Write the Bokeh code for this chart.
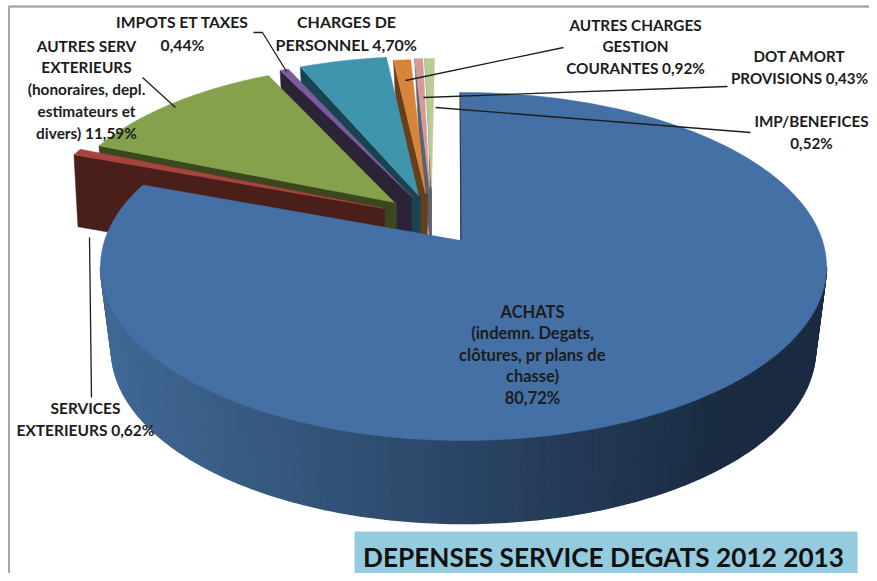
import numpy as np
from bokeh.plotting import figure
from bokeh.models import Range1d
from bokeh.core.properties import value
from bokeh.embed import file_html
from bokeh.resources import INLINE

# ---- data -----------------------------------------------------------
categories = ["ACHATS", "SERVICES EXTERIEURS", "AUTRES SERV EXTERIEURS", "IMPOTS ET TAXES",
              "CHARGES DE PERSONNEL", "AUTRES CHARGES GESTION COURANTES",
              "DOT AMORT PROVISIONS", "IMP/BENEFICES"]
values = [80.72, 0.62, 11.59, 0.44, 4.70, 0.92, 0.43, 0.52]
label_lines = [
    ["ACHATS", "(indemn. Degats,", "clôtures, pr plans de", "chasse)", "80,72%"],
    ["SERVICES", "EXTERIEURS 0,62%"],
    ["AUTRES SERV", "EXTERIEURS", "(honoraires, depl.", "estimateurs et", "divers) 11,59%"],
    ["IMPOTS ET TAXES", "0,44%"],
    ["CHARGES DE", "PERSONNEL 4,70%"],
    ["AUTRES CHARGES", "GESTION", "COURANTES 0,92%"],
    ["DOT AMORT", "PROVISIONS 0,43%"],
    ["IMP/BENEFICES", "0,52%"],
]
title_text = "DEPENSES SERVICE DEGATS 2012 2013"

# ---- layout / style -------------------------------------------------
top_colors = ["#4470A5", "#A8443F", "#86A14B", "#7A5C9E", "#3F95AE", "#D9843B", "#D49A97", "#B9CC91"]
wall_colors = ["#2A4568", "#4A1E19", "#3A471F", "#2C2339", "#1A4350", "#64401B", "#5C6270", "#5A5A55"]
apex_pos = [(460, 240), (384, 208), (394, 202), (412, 197), (418, 195), (425, 193), (429, 187), (431, 190)]
wall_right = [460, 384, 396, 411, 420, 427, 431, 431]
rx_px = [363, 355, 345, 362, 345, 345, 345, 345]
ry_px = [174, 170, 165, 165, 165, 160, 155, 158]
depth_px = [83, 72, 72, 72, 72, 72, 72, 72]
bottom_rx = 352
centre_shift = (3, 26)
label_pos = [(532, 311), (85, 407), (86, 45), (182, 21), (346, 21), (635, 24), (799, 55), (811, 120)]
label_size = ["16.5px", "15.5px", "15.4px", "15.7px", "16px", "15.3px", "15.2px", "15.2px"]
line_step = [21.5, 22, 21.8, 23, 23, 21.5, 22, 22]
leaders = [
    ([89, 91], [237, 397]),
    ([142, 175], [77, 107]),
    ([253, 262, 286], [32, 32, 71]),
    ([563, 405], [47, 80]),
    ([727, 423], [86, 97]),
    ([750, 435], [132, 107]),
]
FONT = value("Lato")
W, H = 869, 573

p = figure(width=W, height=H, x_range=Range1d(0, W), y_range=Range1d(H, 0),
           output_backend="svg", toolbar_location=None, min_border=0)
p.axis.visible = False
p.grid.visible = False
p.outline_line_color = None


def warp(theta):
    """pie angle (deg, clockwise from top) -> parameter on the perspective ellipse"""
    return theta - 7.7 * np.sin(np.radians(theta))


def rim(i, theta):
    t = np.radians(warp(np.asarray(theta, dtype=float)))
    ax, ay = apex_pos[i]
    return (ax + centre_shift[0] + rx_px[i] * np.sin(t),
            ay + centre_shift[1] - ry_px[i] * np.cos(t))


total = sum(values)
edges = np.cumsum([0] + values) / total * 360.0

# frame lines of the picture
p.line([8, W], [6, 6], line_color="#ABABAB", line_width=2.5)
p.line([8.5, 8.5], [6, H], line_color="#A6A6A6", line_width=2)

# exploded back slices, painted back to front, then the big slice
for i in range(len(values) - 1, 0, -1):
    t0, t1 = edges[i], edges[i + 1]
    ax, ay = apex_pos[i]
    d = depth_px[i]
    wx = wall_right[i]
    x0, y0 = rim(i, t0)
    p.patch([wx, ax, float(x0), float(x0) + 4, wx], [ay, ay, float(y0), float(y0) + d, ay + d],
            fill_color=wall_colors[i], line_color=wall_colors[i], line_width=0.5)
    th = np.linspace(t0, t1, 30)
    xs, ys = rim(i, th)
    p.patch([ax] + list(xs), [ay] + list(ys), fill_color=top_colors[i],
            line_color=top_colors[i], line_width=0.5)

# gradient wall of the big slice
ax, ay = apex_pos[0]
d = depth_px[0]
cx = ax + centre_shift[0]
cy = ay + centre_shift[1]
ts = np.radians(np.linspace(90, 270, 181))
left_rgb = np.array([0x41, 0x69, 0x96])
right_rgb = np.array([0x1A, 0x2B, 0x42])
for a, b in zip(ts[:-1], ts[1:]):
    xa, ya = cx + rx_px[0] * np.sin(a), cy - ry_px[0] * np.cos(a)
    xb, yb = cx + rx_px[0] * np.sin(b), cy - ry_px[0] * np.cos(b)
    xa2, xb2 = cx + bottom_rx * np.sin(a), cx + bottom_rx * np.sin(b)
    f = ((xa + xb) / 2 - (cx - rx_px[0])) / (2 * rx_px[0])
    r, g, bl = (left_rgb + (right_rgb - left_rgb) * min(1, f * 1.15)).astype(int)
    col = f"#{r:02x}{g:02x}{bl:02x}"
    p.patch([xa, xb, xb2, xa2], [ya, yb, yb + d, ya + d], fill_color=col, line_color=col, line_width=1.5)

th = np.linspace(edges[0], edges[1], 240)
xs, ys = rim(0, th)
p.patch([ax, ax] + list(xs), [ay, float(ys[0])] + list(ys), fill_color=top_colors[0],
        line_color=top_colors[0], line_width=0.5)
p.line([ax - 0.5, ax + 0.5], [float(ys[0]), ay], line_color="#24395A", line_width=1.2)

# leader lines
for lx, ly in leaders:
    p.line(lx, ly, line_color="#1E1E1E", line_width=1.3)

# labels
for lines, (lx, ly), step, size in zip(label_lines, label_pos, line_step, label_size):
    p.text(x=[lx] * len(lines), y=[ly + k * step for k in range(len(lines))], text=lines,
           text_font=FONT, text_font_style="bold", text_font_size=size,
           text_align="center", text_baseline="middle", text_color="#1C1C1C")

# title box
p.quad(left=[354], right=[857], top=[531], bottom=[572.5], fill_color="#94CBDF", line_color=None)
p.text(x=[603], y=[556], text=[title_text], text_font=FONT, text_font_style="bold",
       text_font_size="26.2px", text_align="center", text_baseline="middle", text_color="#111111")

open("out.html", "w").write(file_html(p, INLINE))
